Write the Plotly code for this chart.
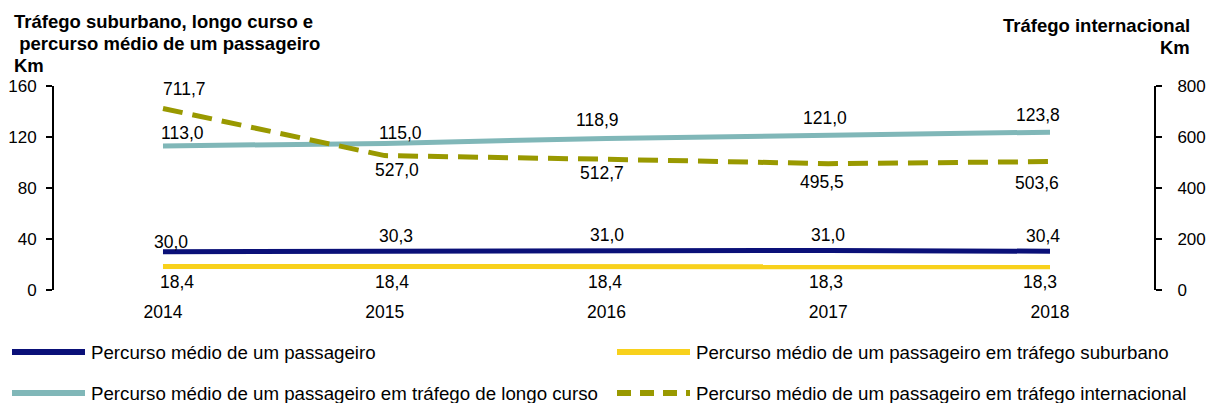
import plotly.graph_objects as go

years = ["2014", "2015", "2016", "2017", "2018"]
medio = [30.0, 30.3, 31.0, 31.0, 30.4]
suburbano = [18.4, 18.4, 18.4, 18.3, 18.3]
longo = [113.0, 115.0, 118.9, 121.0, 123.8]
internacional = [711.7, 527.0, 512.7, 495.5, 503.6]

names = [
    "Percurso médio de um passageiro",
    "Percurso médio de um passageiro em tráfego suburbano",
    "Percurso médio de um passageiro em tráfego de longo curso",
    "Percurso médio de um passageiro em tráfego internacional",
]

def fmt(v):
    return f"{v:.1f}".replace(".", ",")

FONT = "Liberation Sans, Arial, sans-serif"
C_BLUE = "#0a1078"
C_YEL = "#f8d11c"
C_TEAL = "#80b7b8"
C_OLIVE = "#999900"

# plot-area geometry (pixels) used to place labels / legend in paper coords
L, R, T, B = 54, 1154, 86, 290
W, H = R - L, B - T
def px(x):
    return (x - L) / W
def py(y):
    return (B - y) / H

fig = go.Figure()
fig.add_trace(go.Scatter(x=years, y=medio, mode="lines", name=names[0],
                         line=dict(color=C_BLUE, width=5), showlegend=False))
fig.add_trace(go.Scatter(x=years, y=suburbano, mode="lines", name=names[1],
                         line=dict(color=C_YEL, width=5), showlegend=False))
fig.add_trace(go.Scatter(x=years, y=longo, mode="lines", name=names[2],
                         line=dict(color=C_TEAL, width=5), showlegend=False))
fig.add_trace(go.Scatter(x=years, y=internacional, mode="lines", name=names[3],
                         line=dict(color=C_OLIVE, width=5, dash="20px,10px"),
                         yaxis="y2", showlegend=False))

# label offsets (style only)
label_specs = [
    (medio, "y", [8, 11, 1, 0, -7], [10, 15, 15, 15, 15]),
    (suburbano, "y", [14, 7, -1, -2, -10], [-15, -15, -15, -15, -15]),
    (longo, "y", [20, 16, -9, -3, -12], [13, 10, 18, 18, 17]),
    (internacional, "y2", [22, 12, -4, -6, -13], [20, -14, -14, -18, -21]),
]

annotations = []
for vals, yref, xs, ys in label_specs:
    for i, v in enumerate(vals):
        annotations.append(dict(x=i, y=v, xref="x", yref=yref, text=fmt(v),
                                showarrow=False, xanchor="center", yanchor="middle",
                                xshift=xs[i], yshift=ys[i],
                                font=dict(family=FONT, size=17.5, color="#000000")))

# titles
tfont = dict(family=FONT, size=18.5, color="#000000")
for txt, yy in [("<b>Tráfego suburbano, longo curso e</b>", 21.5),
                ("<b> percurso médio de um passageiro</b>", 43.5),
                ("<b>Km</b>", 65.5)]:
    annotations.append(dict(text=txt, xref="paper", yref="paper", x=px(12), y=py(yy),
                            xanchor="left", yanchor="middle", showarrow=False, font=tfont))
for txt, yy in [("<b>Tráfego internacional</b>", 26), ("<b>Km</b>", 47.5)]:
    annotations.append(dict(text=txt, xref="paper", yref="paper", x=px(1192), y=py(yy),
                            xanchor="right", yanchor="middle", showarrow=False, font=tfont))

# legend (manual, to reproduce the long swatches and two-column layout)
legend_items = [
    (names[0], C_BLUE, "solid", 12, 352),
    (names[1], C_YEL, "solid", 617, 352),
    (names[2], C_TEAL, "solid", 12, 393),
    (names[3], C_OLIVE, "14px,9px", 617, 393),
]
shapes = []
for name, col, dash, x0, yy in legend_items:
    shapes.append(dict(type="line", xref="paper", yref="paper",
                       x0=px(x0), x1=px(x0 + 73), y0=py(yy), y1=py(yy),
                       line=dict(color=col, width=6, dash=dash)))
    annotations.append(dict(text=name, xref="paper", yref="paper", x=px(x0 + 77), y=py(yy),
                            xanchor="left", yanchor="middle", showarrow=False,
                            font=dict(family=FONT, size=18.7, color="#000000")))

fig.update_layout(
    width=1206, height=403, autosize=False,
    margin=dict(l=L, r=1206 - R, t=T, b=403 - B, pad=0, autoexpand=False),
    paper_bgcolor="white", plot_bgcolor="white",
    font=dict(family=FONT, size=17, color="#000000"),
    showlegend=False,
    xaxis=dict(type="category", range=[-0.4915, 4.469], showline=False, showgrid=False,
               ticks="", tickfont=dict(size=17.5), zeroline=False, ticklabelstandoff=9,
               automargin=False),
    yaxis=dict(range=[0, 160], tickvals=[0, 40, 80, 120, 160], showgrid=False, zeroline=False,
               showline=True, linecolor="#000000", linewidth=2, ticks="outside", ticklen=6,
               tickwidth=1.5, tickcolor="#000000", tickfont=dict(size=17), ticklabelstandoff=6,
               automargin=False),
    yaxis2=dict(range=[0, 800], tickvals=[0, 200, 400, 600, 800], overlaying="y", side="right",
                showgrid=False, zeroline=False, showline=True, linecolor="#000000", linewidth=2,
                ticks="outside", ticklen=6, tickwidth=1.5, tickcolor="#000000",
                tickfont=dict(size=17), ticklabelstandoff=12, automargin=False),
    annotations=annotations,
    shapes=shapes,
)

fig.write_html("out.html", config={"displayModeBar": False},
               post_script="document.body.style.margin='0px';document.body.style.overflow='hidden';")
